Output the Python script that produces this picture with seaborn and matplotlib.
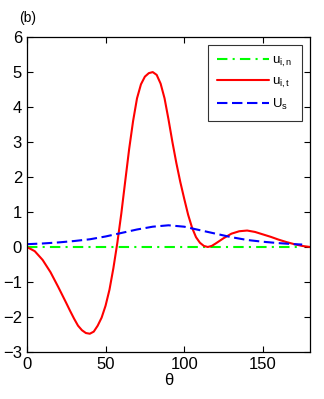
import matplotlib
matplotlib.use("Agg")
import matplotlib.pyplot as plt
import seaborn as sns

theta_t = [0, 5, 10, 15, 20, 25, 27.5, 30, 32.5, 35, 37.5, 40, 42.5, 45, 47.5, 50, 52.5, 55,
           57.5, 60, 62.5, 65, 67.5, 70, 72.5, 75, 77.5, 80, 82.5, 85, 87.5, 90, 92.5, 95,
           97.5, 100, 102.5, 105, 107.5, 110, 112.5, 115, 117.5, 120, 125, 130, 135, 140,
           145, 150, 155, 160, 165, 170, 175, 180]
u_it = [0, -0.12, -0.37, -0.72, -1.15, -1.6, -1.83, -2.05, -2.25, -2.38, -2.46, -2.48, -2.42,
        -2.25, -2.02, -1.68, -1.22, -0.6, 0.12, 0.95, 1.88, 2.8, 3.6, 4.25, 4.65, 4.87, 4.97,
        5.0, 4.92, 4.67, 4.25, 3.65, 3.0, 2.4, 1.86, 1.38, 0.92, 0.55, 0.28, 0.12, 0.03,
        0.0, 0.03, 0.1, 0.25, 0.38, 0.45, 0.47, 0.43, 0.36, 0.29, 0.21, 0.14, 0.08, 0.03, 0.0]

theta_s = [0, 10, 20, 30, 40, 50, 60, 70, 80, 90, 100, 110, 120, 130, 140, 150, 160, 170, 175]
U_s = [0.08, 0.1, 0.13, 0.17, 0.22, 0.3, 0.4, 0.5, 0.58, 0.62, 0.58, 0.48, 0.38, 0.28, 0.2,
       0.15, 0.11, 0.08, 0.07]

theta_n = [0, 175]
u_in = [0, 0]

labels = [r"$\mathregular{u_{i,n}}$", r"$\mathregular{u_{i,t}}$", r"$\mathregular{U_s}$"]
x_ticks = [0, 50, 100, 150]
y_ticks = [-3, -2, -1, 0, 1, 2, 3, 4, 5, 6]

sns.set_style("ticks")
plt.rcParams["font.family"] = ["Liberation Sans", "DejaVu Sans"]
plt.rcParams["mathtext.fontset"] = "custom"
plt.rcParams["mathtext.rm"] = "Liberation Sans"
for k in ["text.color", "axes.labelcolor", "xtick.color", "ytick.color", "axes.edgecolor"]:
    plt.rcParams[k] = "black"

fig = plt.figure(figsize=(3.24, 3.99), dpi=100)
ax = fig.add_axes([0.083, 0.118, 0.874, 0.789])

sns.lineplot(x=theta_n, y=u_in, ax=ax, color="#00ff00", lw=1.5,
             linestyle=(0, (5, 2.5, 1, 2.5)), label=labels[0])
sns.lineplot(x=theta_t, y=u_it, ax=ax, color="#ff0000", lw=1.5, label=labels[1])
sns.lineplot(x=theta_s, y=U_s, ax=ax, color="#0000ff", lw=1.5,
             linestyle=(0, (5, 2.2)), label=labels[2])

ax.set_xlim(0, 180)
ax.set_ylim(-3, 6)
ax.set_xticks(x_ticks)
ax.set_yticks(y_ticks)
ax.tick_params(direction="in", top=True, right=True, labelsize=12, length=4, width=0.8,
               colors="black")
for s in ax.spines.values():
    s.set_linewidth(0.9)
    s.set_color("black")
    s.set_visible(True)
ax.set_xlabel("θ", fontsize=12, labelpad=1)
ax.set_ylabel("")

leg = ax.legend(loc="upper right", fontsize=9.5, frameon=True, fancybox=False,
                edgecolor="black", handlelength=3.9, borderaxespad=0.6,
                labelspacing=0.5, handletextpad=0.3, borderpad=0.7)
leg.get_frame().set_linewidth(0.8)

fig.text(0.058, 0.955, "(b)", fontsize=10, va="center", ha="left")

fig.savefig("out.png", dpi=100)
